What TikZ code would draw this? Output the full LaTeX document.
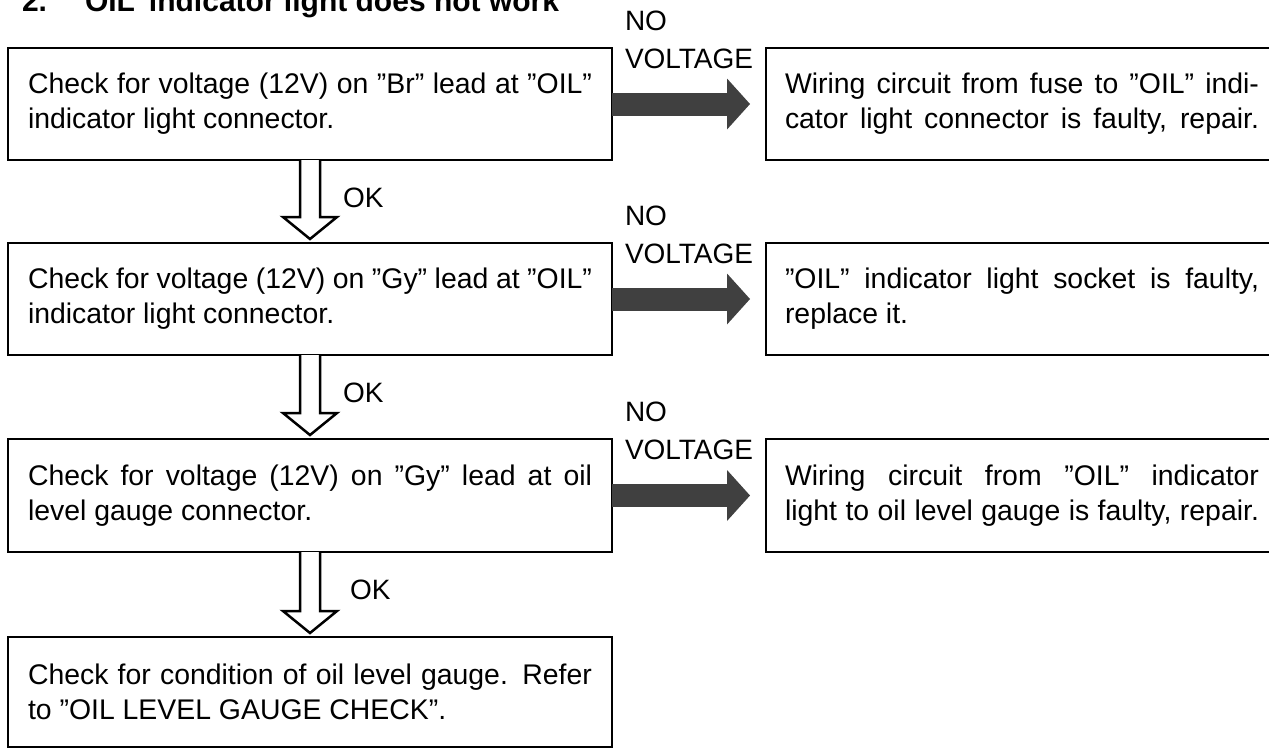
\documentclass[tikz,border=0pt]{standalone}
\usepackage{fontspec}
\setmainfont{Liberation Sans}
\usetikzlibrary{arrows.meta}
\newcommand\LJ[1]{{\spaceskip=0pt\xspaceskip=0pt\makebox[564pt][s]{#1}}}
\newcommand\RJ[1]{{\spaceskip=0pt\xspaceskip=0pt\makebox[474pt][s]{#1}}}
\newcommand\NL[1]{{\spaceskip=0pt\xspaceskip=0pt #1}}
\begin{document}
\begin{tikzpicture}[x=1pt,y=-1pt,
  every node/.style={inner sep=0pt, outer sep=0pt},
  box/.style={draw, line width=2.5pt, anchor=north west, font=\fontsize{28.4}{35}\selectfont, align=left},
  lbox/.style={box, minimum width=604pt, text width=564pt},
  rbox/.style={box, minimum width=512pt, text width=474pt},
  fat/.style={line width=23pt, draw=black!75, -{Triangle[length=23pt,width=51pt,line width=0pt]}, shorten >=16pt},
  hollow/.style={draw, line width=2.5pt, fill=white, line join=miter},
  lbl/.style={font=\fontsize{28}{35}\selectfont, anchor=base west},
  ttl/.style={font=\fontsize{30}{30}\selectfont\bfseries, anchor=base west},
]
\useasboundingbox (0,0) rectangle (1269,748);
\clip (0,0) rectangle (1269,748);
\fill[white] (0,0) rectangle (1269,748);

% title (cut at the top, as in the reference)
\node[ttl] (t1) at (22,11) {2.};
\node[ttl] (t2) at (70,11) {''OIL''};
\node[ttl, anchor=base east] (t3) at (559,11) {\NL{indicator light does not work}};

% left column
\node[lbox, minimum height=112pt] (b1) at (8,48)
  {\LJ{Check for voltage (12V) on ''Br'' lead at ''OIL''}\\\NL{indicator light connector.}};
\node[lbox, minimum height=112pt] (b2) at (8,243)
  {\LJ{Check for voltage (12V) on ''Gy'' lead at ''OIL''}\\\NL{indicator light connector.}};
\node[lbox, minimum height=113pt] (b3) at (8,439)
  {\LJ{Check for voltage (12V) on ''Gy'' lead at oil}\\\NL{level gauge connector.}};
\node[lbox, minimum height=110pt] (b4) at (8,637)
  {\LJ{Check for condition of oil level gauge. Refer}\\\NL{to ''OIL LEVEL GAUGE CHECK''.}};

% right column
\node[rbox, minimum height=112pt] (r1) at (766,48)
  {\RJ{Wiring circuit from fuse to ''OIL'' indi-}\\\RJ{cator light connector is faulty, repair.}};
\node[rbox, minimum height=112pt] (r2) at (766,243)
  {\RJ{''OIL'' indicator light socket is faulty,}\\\NL{replace it.}};
\node[rbox, minimum height=113pt] (r3) at (766,439)
  {\RJ{Wiring circuit from ''OIL'' indicator}\\\RJ{light to oil level gauge is faulty, repair.}};

% NO VOLTAGE arrows
\foreach \i/\t in {1/48,2/243,3/439}{
  \draw[fat] (b\i.east) -- (b\i.east -| r\i.west);
  \node[lbl] (no\i) at (625,\t-18) {NO};
  \node[lbl] (nv\i) at (625,\t+20) {VOLTAGE};
}

% OK arrows
\foreach \a/\b/\k in {1/2/343,2/3/343,3/4/350}{
  \draw[hollow] ([xshift=-10pt]b\a.south) -- ([xshift=-10pt,yshift=26pt]b\b.north)
    -- ([xshift=-27pt,yshift=26pt]b\b.north) -- ([yshift=4pt]b\b.north)
    -- ([xshift=27pt,yshift=26pt]b\b.north) -- ([xshift=10pt,yshift=26pt]b\b.north)
    -- ([xshift=10pt]b\a.south);
  \node[lbl] (ok\a) at ([yshift=-47pt]b\a.south -| \k,0) {OK};
}
\end{tikzpicture}
\end{document}
